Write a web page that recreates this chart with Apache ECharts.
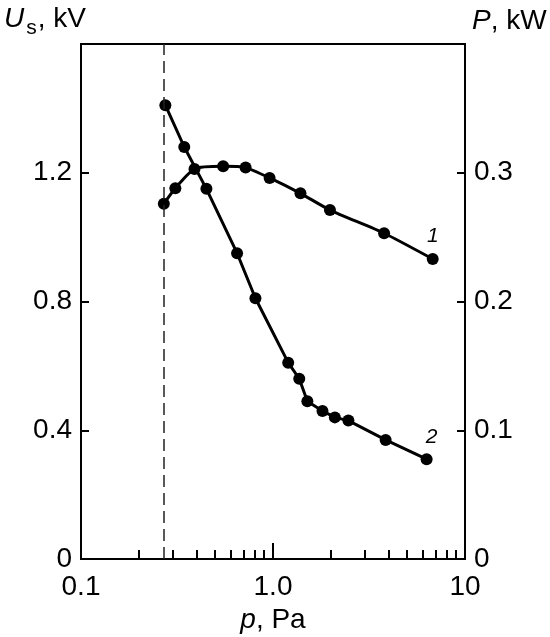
<!DOCTYPE html>
<html>
<head>
<meta charset="utf-8">
<title>U_s and P vs p</title>
<script src="https://cdn.jsdelivr.net/npm/echarts@6/dist/echarts.min.js"></script>
<style>
  html, body { margin: 0; padding: 0; background: #fff; }
  #chart { width: 550px; height: 637px; }
</style>
</head>
<body>
<div id="chart"></div>
<script>
// curve 1: discharge power P (kW) vs pressure p (Pa)
var pressure1 = [0.27, 0.31, 0.39, 0.55, 0.72, 0.96, 1.39, 1.98, 3.79, 6.79];
var powerKW = [0.276, 0.288, 0.303, 0.305, 0.304, 0.296, 0.284, 0.271, 0.253, 0.233];

// curve 2: voltage U_s (kV) vs pressure p (Pa)
var pressure2 = [0.275, 0.345, 0.45, 0.65, 0.81, 1.2, 1.37, 1.51, 1.81, 2.1, 2.47, 3.86, 6.31];
var voltageKV = [1.41, 1.28, 1.15, 0.95, 0.81, 0.61, 0.56, 0.49, 0.46, 0.44, 0.43, 0.37, 0.31];

// dashed line: lowest pressure
var cutoffPressure = 0.27;

// minor ticks on the log axis
var xMinorTicks = [0.2, 0.3, 0.4, 0.5, 0.6, 0.7, 0.8, 0.9, 2, 3, 4, 5, 6, 7, 8, 9];

var FONT = '"Liberation Sans", Arial, sans-serif';

function toPairs(xs, ys, tag) {
  return xs.map(function (x, i) {
    var item = { value: [x, ys[i]] };
    if (i === xs.length - 1) {
      item.label = { show: true, formatter: tag };
    }
    return item;
  });
}

var chart = echarts.init(document.getElementById('chart'), null, { renderer: 'canvas' });

var axisText = { color: '#000', fontFamily: FONT, fontSize: 28 };

var option = {
  backgroundColor: '#fff',
  animation: false,
  grid: {
    left: 81, right: 85, top: 44, bottom: 78,
    outerBoundsMode: 'none',
    containLabel: false,
    show: true, borderColor: '#000', borderWidth: 2
  },
  xAxis: [{
    type: 'log',
    min: 0.1,
    max: 10,
    logBase: 10,
    position: 'bottom',
    name: '{i|p}{n|, Pa}',
    nameLocation: 'middle',
    nameGap: 44,
    nameTextStyle: {
      color: '#000', fontFamily: FONT, fontSize: 28,
      rich: {
        i: { fontStyle: 'italic', fontSize: 28, fontFamily: FONT, color: '#000' },
        n: { fontSize: 28, fontFamily: FONT, color: '#000' }
      }
    },
    axisLine: { lineStyle: { color: '#000', width: 2 } },
    axisTick: { inside: true, length: 16, lineStyle: { color: '#000', width: 2 } },
    axisLabel: Object.assign({
      margin: 14,
      formatter: function (v) {
        var r = Math.round(v * 10) / 10;
        return r === 1 ? '1.0' : String(r);
      }
    }, axisText),
    splitLine: { show: false }
  }, {
    type: 'log',
    min: 0.1,
    max: 10,
    logBase: 10,
    position: 'bottom',
    axisLine: { show: false },
    axisLabel: { show: false },
    axisTick: {
      inside: true, length: 9, customValues: xMinorTicks,
      lineStyle: { color: '#000', width: 2 }
    },
    splitLine: { show: false }
  }],
  yAxis: [{
    type: 'value',
    min: 0,
    max: 1.6,
    interval: 0.4,
    position: 'left',
    name: '{i|U}{s|s}{n|, kV}',
    nameLocation: 'end',
    nameGap: 22,
    nameTextStyle: {
      align: 'right', verticalAlign: 'middle', padding: [0, -5, 0, 0],
      color: '#000', fontFamily: FONT, fontSize: 28,
      rich: {
        i: { fontStyle: 'italic', fontSize: 28, fontFamily: FONT, color: '#000', verticalAlign: 'bottom', padding: [0, 0, 5, 0] },
        s: { fontSize: 21, fontFamily: FONT, color: '#000', verticalAlign: 'bottom', padding: [0, 1, 0, 2] },
        n: { fontSize: 28, fontFamily: FONT, color: '#000', verticalAlign: 'bottom', padding: [0, 0, 5, 0] }
      }
    },
    axisLine: { show: true, lineStyle: { color: '#000', width: 2 } },
    axisTick: { show: true, inside: true, length: 8, lineStyle: { color: '#000', width: 2 } },
    axisLabel: Object.assign({ margin: 9, showMaxLabel: false }, axisText),
    splitLine: { show: false }
  }, {
    type: 'value',
    min: 0,
    max: 0.4,
    interval: 0.1,
    position: 'right',
    name: '{i|P}{n|, kW}',
    nameLocation: 'end',
    nameGap: 23,
    nameTextStyle: {
      align: 'left', verticalAlign: 'middle', padding: [0, 0, 0, 7],
      color: '#000', fontFamily: FONT, fontSize: 28,
      rich: {
        i: { fontStyle: 'italic', fontSize: 28, fontFamily: FONT, color: '#000' },
        n: { fontSize: 28, fontFamily: FONT, color: '#000' }
      }
    },
    axisLine: { show: true, lineStyle: { color: '#000', width: 2 } },
    axisTick: { show: true, inside: true, length: 8, lineStyle: { color: '#000', width: 2 } },
    axisLabel: Object.assign({ margin: 9, showMaxLabel: false }, axisText),
    splitLine: { show: false }
  }],
  series: [{
    name: 'U_s',
    type: 'line',
    xAxisIndex: 0,
    yAxisIndex: 0,
    data: toPairs(pressure2, voltageKV, '2'),
    symbol: 'circle',
    symbolSize: 12,
    itemStyle: { color: '#000' },
    lineStyle: { color: '#000', width: 3 },
    label: {
      position: 'top', distance: 6, offset: [5, 0],
      color: '#000', fontFamily: FONT, fontSize: 21, fontStyle: 'italic'
    },
    emphasis: { disabled: true },
    markLine: {
      silent: true,
      symbol: ['none', 'none'],
      label: { show: false },
      lineStyle: { color: '#222', width: 1.5, type: [12, 6] },
      data: [{ xAxis: cutoffPressure }]
    },
    z: 3
  }, {
    name: 'P',
    type: 'line',
    xAxisIndex: 0,
    yAxisIndex: 1,
    data: toPairs(pressure1, powerKW, '1'),
    symbol: 'circle',
    symbolSize: 12,
    smooth: 0.2,
    itemStyle: { color: '#000' },
    lineStyle: { color: '#000', width: 3 },
    label: {
      position: 'top', distance: 6,
      color: '#000', fontFamily: FONT, fontSize: 21, fontStyle: 'italic'
    },
    emphasis: { disabled: true },
    z: 3
  }]
};

chart.setOption(option);
</script>
</body>
</html>
